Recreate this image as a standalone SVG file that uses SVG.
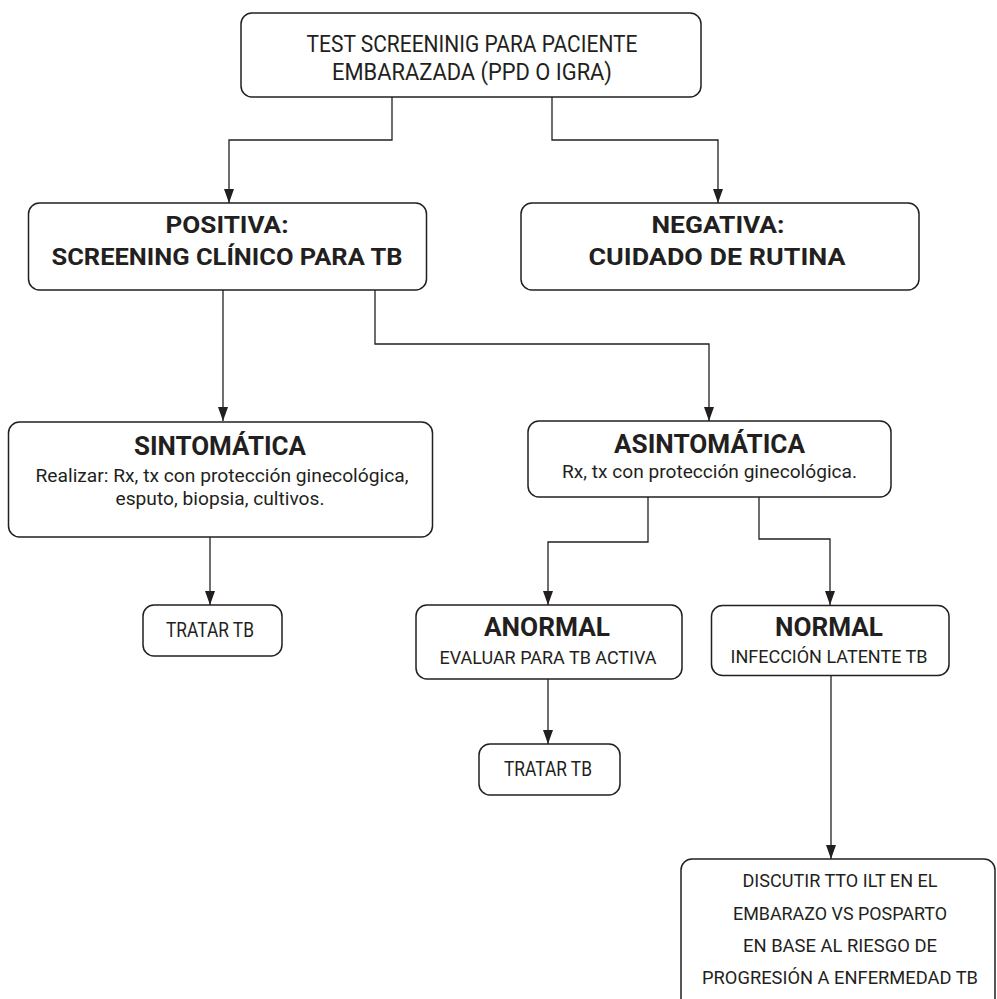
<svg xmlns="http://www.w3.org/2000/svg" width="997" height="999" viewBox="0 0 997 999">
  <style>
    .box { fill: #ffffff; stroke: #231f20; stroke-width: 1.5; }
    .wire { fill: none; stroke: #231f20; stroke-width: 1.3; }
    text { font-family: Roboto, "Open Sans", "Liberation Sans", sans-serif; fill: #231f20; text-anchor: middle; }
    .t { font-size: 23px; }
    .s { font-size: 19px; }
    .m { font-size: 20px; }
    .h { font-size: 24px; font-weight: 700; }
    .hb { font-size: 26px; font-weight: 700; }
  </style>
  <defs>
    <marker id="arrow" markerUnits="userSpaceOnUse" markerWidth="14" markerHeight="10" refX="14" refY="5" orient="auto">
      <path d="M0,0 L14,5 L0,10 z" fill="#231f20"/>
    </marker>
  </defs>

  <rect width="997" height="999" fill="#ffffff"/>

  <!-- connectors -->
  <g id="connectors">
    <path class="wire" d="M392,97 V140 H229 V203" marker-end="url(#arrow)"/>
    <path class="wire" d="M552,97 V140 H718 V203" marker-end="url(#arrow)"/>
    <path class="wire" d="M223,290 V421" marker-end="url(#arrow)"/>
    <path class="wire" d="M375,290 V344 H709 V421" marker-end="url(#arrow)"/>
    <path class="wire" d="M210,537 V605" marker-end="url(#arrow)"/>
    <path class="wire" d="M648,497 V542 H548 V605" marker-end="url(#arrow)"/>
    <path class="wire" d="M759,497 V539 H830 V605" marker-end="url(#arrow)"/>
    <path class="wire" d="M548,679 V744" marker-end="url(#arrow)"/>
    <path class="wire" d="M831,675 V859" marker-end="url(#arrow)"/>
  </g>

  <!-- nodes -->
  <g id="test-screening">
    <rect class="box" x="241" y="13" width="460" height="84" rx="11"/>
    <text class="t" x="472" y="52" textLength="331" lengthAdjust="spacingAndGlyphs">TEST SCREENINIG PARA PACIENTE</text>
    <text class="t" x="472" y="80" textLength="280" lengthAdjust="spacingAndGlyphs">EMBARAZADA (PPD O IGRA)</text>
  </g>

  <g id="positiva">
    <rect class="box" x="28.5" y="203" width="398" height="87" rx="11"/>
    <text class="h" x="227" y="233" textLength="123" lengthAdjust="spacingAndGlyphs">POSITIVA:</text>
    <text class="h" x="227" y="265" textLength="351" lengthAdjust="spacingAndGlyphs">SCREENING CLÍNICO PARA TB</text>
  </g>

  <g id="negativa">
    <rect class="box" x="521" y="203" width="398" height="87" rx="11"/>
    <text class="h" x="718" y="233" textLength="133" lengthAdjust="spacingAndGlyphs">NEGATIVA:</text>
    <text class="h" x="717" y="265" textLength="257" lengthAdjust="spacingAndGlyphs">CUIDADO DE RUTINA</text>
  </g>

  <g id="sintomatica">
    <rect class="box" x="8.5" y="422" width="424" height="115" rx="11"/>
    <text class="hb" x="220" y="455" textLength="172" lengthAdjust="spacingAndGlyphs">SINTOMÁTICA</text>
    <text class="s" x="222" y="482" textLength="373" lengthAdjust="spacingAndGlyphs">Realizar: Rx, tx con protección ginecológica,</text>
    <text class="s" x="220" y="505" textLength="209" lengthAdjust="spacingAndGlyphs">esputo, biopsia, cultivos.</text>
  </g>

  <g id="asintomatica">
    <rect class="box" x="528" y="421" width="363" height="76" rx="11"/>
    <text class="hb" x="709.5" y="453" textLength="191" lengthAdjust="spacingAndGlyphs">ASINTOMÁTICA</text>
    <text class="s" x="709.5" y="478" textLength="295" lengthAdjust="spacingAndGlyphs">Rx, tx con protección ginecológica.</text>
  </g>

  <g id="tratar-tb-1">
    <rect class="box" x="143" y="605" width="139" height="51" rx="11"/>
    <text class="m" x="210" y="637" textLength="88" lengthAdjust="spacingAndGlyphs">TRATAR TB</text>
  </g>

  <g id="anormal">
    <rect class="box" x="416" y="605" width="266" height="74" rx="11"/>
    <text class="hb" x="547" y="636" textLength="126" lengthAdjust="spacingAndGlyphs">ANORMAL</text>
    <text class="s" x="548" y="664" textLength="217" lengthAdjust="spacingAndGlyphs">EVALUAR PARA TB ACTIVA</text>
  </g>

  <g id="normal">
    <rect class="box" x="711.5" y="605.5" width="237.5" height="70" rx="11"/>
    <text class="hb" x="829" y="636" textLength="108" lengthAdjust="spacingAndGlyphs">NORMAL</text>
    <text class="s" x="829" y="663" textLength="197" lengthAdjust="spacingAndGlyphs">INFECCIÓN LATENTE TB</text>
  </g>

  <g id="tratar-tb-2">
    <rect class="box" x="479" y="744" width="141" height="51" rx="11"/>
    <text class="m" x="548" y="776" textLength="88" lengthAdjust="spacingAndGlyphs">TRATAR TB</text>
  </g>

  <g id="discutir-tto">
    <rect class="box" x="681" y="859" width="314" height="160" rx="11"/>
    <text class="s" x="840" y="887" textLength="195" lengthAdjust="spacingAndGlyphs">DISCUTIR TTO ILT EN EL</text>
    <text class="s" x="840" y="920" textLength="214" lengthAdjust="spacingAndGlyphs">EMBARAZO VS POSPARTO</text>
    <text class="s" x="840" y="952" textLength="194" lengthAdjust="spacingAndGlyphs">EN BASE AL RIESGO DE</text>
    <text class="s" x="840" y="984" textLength="276" lengthAdjust="spacingAndGlyphs">PROGRESIÓN A ENFERMEDAD TB</text>
  </g>
</svg>
